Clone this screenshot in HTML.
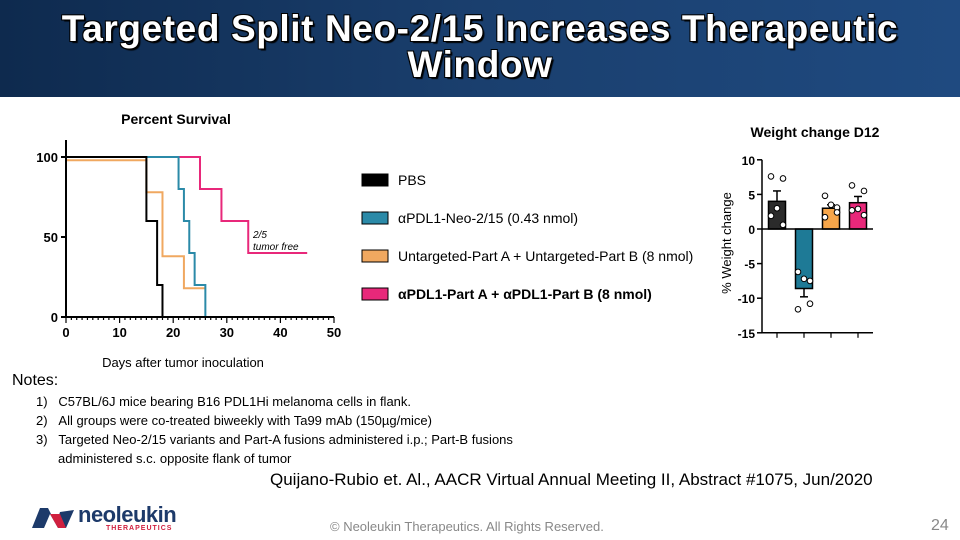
<!DOCTYPE html>
<html><head><meta charset="utf-8"><style>
body{margin:0;width:960px;height:540px;overflow:hidden;background:#fff;font-family:"Liberation Sans",sans-serif;position:relative}
#hdr{position:absolute;left:0;top:0;width:960px;height:97px;background:linear-gradient(90deg,#0e2a4e 0%,#1a3f6e 50%,#1f4a80 100%)}
#title{position:absolute;left:0;top:11px;width:960px;text-align:center;color:#fff;font-weight:bold;font-size:37px;line-height:36px;letter-spacing:0.6px;text-shadow:2px 2px 1px #000,-1px -1px 0 #000,1px -1px 0 #000,-1px 1px 0 #000}
.abs{position:absolute}
</style></head><body>
<div id="hdr"></div>
<div id="title">Targeted Split Neo-2/15 Increases Therapeutic<br>Window</div>
<svg class="abs" style="left:0;top:0" width="960" height="540">
<g id="surv"></g>
<g id="wt"></g>
<g id="leg"></g>
</svg>
<div class="abs" style="left:12px;top:372px;font-size:16px;color:#000">Notes:</div>
<div class="abs" style="left:36px;top:392px;font-size:13px;line-height:19px;color:#000">
1)&nbsp;&nbsp;&nbsp;C57BL/6J mice bearing B16 PDL1Hi melanoma cells in flank.<br>
2)&nbsp;&nbsp;&nbsp;All groups were co-treated biweekly with Ta99 mAb (150µg/mice)<br>
3)&nbsp;&nbsp;&nbsp;Targeted Neo-2/15 variants and Part-A fusions administered i.p.; Part-B fusions<br>
<span style="padding-left:22px">administered s.c. opposite flank of tumor</span></div>
<div class="abs" style="left:270px;top:470px;font-size:17px;color:#000">Quijano-Rubio et. Al., AACR Virtual Annual Meeting II, Abstract #1075, Jun/2020</div>
<div class="abs" style="left:330px;top:519px;font-size:13px;color:#888">© Neoleukin Therapeutics. All Rights Reserved.</div>
<div class="abs" style="left:931px;top:517px;font-size:16px;color:#888">24</div>
<div class="abs" style="left:30px;top:506px">
<svg width="46" height="24"><path d="M2 22 L10 2 L18 2 L26 18 L30 6 L44 4 L36 22 L28 22 L20 8 L14 22Z" fill="#1d3a6a"/><path d="M20 8 L28 22 L36 22 L30 8Z" fill="#d0203f"/></svg>
<span class="abs" style="left:48px;top:-4px;font-size:22px;font-weight:bold;color:#1d3a6a;letter-spacing:-0.5px">neoleukin</span>
<span class="abs" style="left:76px;top:19px;font-size:7px;font-weight:bold;color:#d0203f;letter-spacing:1px">THERAPEUTICS</span>
</div>
<script>
const NS="http://www.w3.org/2000/svg";
function mk(p,t,a,txt){const e=document.createElementNS(NS,t);for(const k in a)e.setAttribute(k,a[k]);if(txt!==undefined)e.textContent=txt;p.appendChild(e);return e;}
// Survival data
const days=[0,10,20,30,40,50];
const pctTicks=[0,50,100];
const pbsT=[0,15,17,18], pbsV=[100,60,20,0];
const blueT=[0,21,22,23,24,26], blueV=[100,80,60,40,20,0];
const orangeT=[0,15,18,22,26], orangeV=[98,78,38,18,18];
const pinkT=[0,25,29,34,45], pinkV=[100,80,60,40,40];
const X=d=>66+d*5.36, Y=v=>317-v*1.6;
const s=document.getElementById('surv');
let t=mk(s,'text',{x:176,y:124,'font-size':14,'font-weight':'bold','text-anchor':'middle'},'Percent Survival');


t=mk(s,'text',{x:183,y:367,'font-size':13,'text-anchor':'middle'},'Days after tumor inoculation');


function step(T,V,c,nm){let d=`M${X(T[0])},${Y(V[0])}`;for(let i=1;i<T.length;i++){d+=`H${X(T[i])}`;d+=`V${Y(V[i])}`;}
 const p=mk(s,'path',{d:d,fill:'none',stroke:c,'stroke-width':2});
 
 }
step(orangeT,orangeV,'#f0a860','series-untargeted');
step(pinkT,pinkV,'#e8287a','series-pdl1-split');
step(blueT,blueV,'#2b8aa8','series-apdl1-neo');
step(pbsT,pbsV,'#000','series-pbs');
mk(s,'path',{d:`M66,140V317H${X(50)}`,fill:'none',stroke:'#000','stroke-width':2});
for(let d=0;d<=50;d++){mk(s,'line',{x1:X(d),x2:X(d),y1:317,y2:d%10==0?323:320,stroke:'#000','stroke-width':1.2});}
days.forEach(d=>{const e=mk(s,'text',{x:X(d),y:337,'font-size':13,'font-weight':'bold','text-anchor':'middle'},d);});
pctTicks.forEach(v=>{mk(s,'line',{x1:61,x2:66,y1:Y(v),y2:Y(v),stroke:'#000','stroke-width':2});const e=mk(s,'text',{x:58,y:Y(v)+5,'font-size':13,'font-weight':'bold','text-anchor':'end'},v);});
mk(s,'text',{x:253,y:238,'font-size':10,'font-style':'italic'},'2/5');
mk(s,'text',{x:253,y:250,'font-size':10,'font-style':'italic'},'tumor free');
// Legend
const legNames=['PBS','αPDL1-Neo-2/15 (0.43 nmol)','Untargeted-Part A + Untargeted-Part B (8 nmol)','αPDL1-Part A + αPDL1-Part B (8 nmol)'];
const legCols=['#000','#2b8aa8','#f0a860','#e8287a'];
const lg=document.getElementById('leg');
legNames.forEach((n,i)=>{const y=180+i*38;
 const r=mk(lg,'rect',{x:362,y:y-6,width:26,height:12,fill:legCols[i],stroke:'#000','stroke-width':1});
 
 
 const e=mk(lg,'text',{x:398,y:y+5,'font-size':14,'font-weight':i==3?'bold':'normal'},n);
 
 });
// Weight data
const wTicks=[10,5,0,-5,-10,-15];
const wMeans=[4,-8.6,3,3.8];
const wErr=[1.5,1.2,0.5,0.9];
const wDots=[[7.6,7.3,3.0,1.9,0.6],[-6.2,-7.5,-7.2,-11.6,-10.8],[4.8,3.1,3.5,1.7,2.4],[6.3,5.5,2.9,2.7,2.0]];
const wCols=['#2b2b2b','#1e7a96','#f7a64a','#e8287a'];
const WY=v=>229-v*6.92, BX=i=>777+i*27;
const w=document.getElementById('wt');
t=mk(w,'text',{x:815,y:137,'font-size':14,'font-weight':'bold','text-anchor':'middle'},'Weight change D12');


t=mk(w,'text',{x:0,y:0,'font-size':13,'text-anchor':'middle',transform:'translate(731,243) rotate(-90)'},'% Weight change');


wMeans.forEach((m,i)=>{const y0=WY(0),y1=WY(m);
 const r=mk(w,'rect',{x:BX(i)-8.5,y:Math.min(y0,y1),width:17,height:Math.abs(y1-y0),fill:wCols[i],stroke:'#000','stroke-width':1.5});
 
 
 const ye=WY(m+(m>=0?wErr[i]:-wErr[i]));
 mk(w,'line',{x1:BX(i),x2:BX(i),y1:y1,y2:ye,stroke:'#000','stroke-width':1.5});
 mk(w,'line',{x1:BX(i)-4,x2:BX(i)+4,y1:ye,y2:ye,stroke:'#000','stroke-width':1.5});
 const offs=[-6,6,0,-6,6];
 wDots[i].forEach((v,j)=>{const c=mk(w,'circle',{cx:BX(i)+offs[j],cy:WY(v),r:2.8,fill:'#fff',stroke:'#000','stroke-width':1});
  
  });
});
mk(w,'line',{x1:762,x2:873,y1:WY(0),y2:WY(0),stroke:'#000','stroke-width':1.5});
mk(w,'path',{d:`M762,${WY(10)}V${WY(-15)}H873`,fill:'none',stroke:'#000','stroke-width':1.5});
wMeans.forEach((m,i)=>mk(w,'line',{x1:BX(i),x2:BX(i),y1:WY(-15),y2:WY(-15)+5,stroke:'#000','stroke-width':1.2}));
wTicks.forEach(v=>{mk(w,'line',{x1:757,x2:762,y1:WY(v),y2:WY(v),stroke:'#000','stroke-width':1.5});
 const e=mk(w,'text',{x:755,y:WY(v)+5,'font-size':12,'font-weight':'bold','text-anchor':'end'},v);
 
 });
</script>
</body></html>
